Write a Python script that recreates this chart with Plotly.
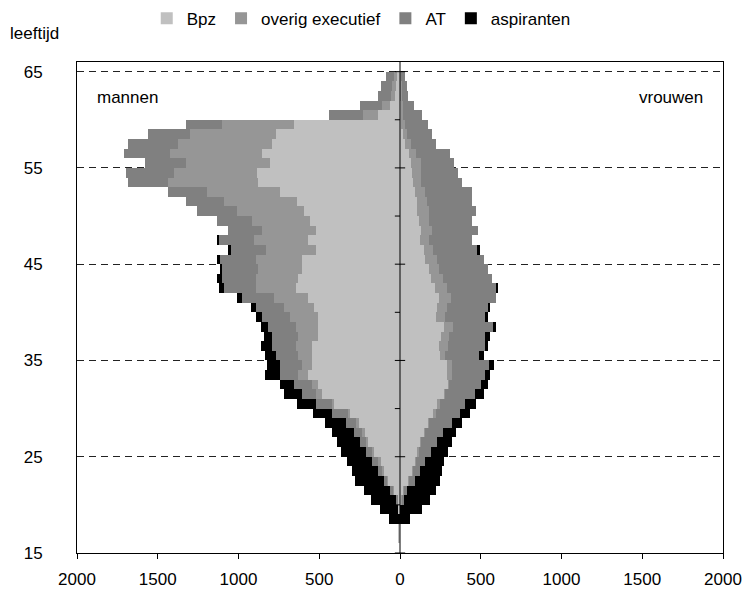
import plotly.graph_objects as go

# ages 16..64 (each bar spans age .. age+1)
ages = list(range(16, 65))

men_bpz = [8, 8, 0, 10, 15, 35, 72, 97, 122, 159, 196, 221, 258, 307, 406, 481, 506, 568, 543, 543,
           543, 506, 506, 506, 530, 568, 642, 630, 605, 605, 518, 568, 518, 557, 593, 640, 743, 877,
           888, 805, 853, 790, 766, 654, 134, 62, 31, 25, 20]
men_overig = [0, 0, 0, 0, 0, 13, 13, 13, 12, 13, 13, 12, 12, 13, 13, 37, 37, 62, 62, 87,
              99, 124, 136, 173, 186, 210, 248, 260, 272, 285, 310, 334, 335, 362, 419, 448, 454, 558,
              510, 520, 571, 583, 534, 446, 97, 48, 25, 25, 20]
men_at = [0, 0, 0, 0, 8, 12, 12, 24, 38, 37, 37, 50, 62, 99, 99, 87, 111, 111, 136, 136,
          148, 160, 173, 174, 174, 198, 198, 210, 223, 225, 223, 223, 210, 212, 243, 239, 238, 252,
          301, 254, 283, 309, 258, 227, 207, 136, 83, 65, 45]
men_asp = [0, 0, 66, 112, 155, 161, 180, 161, 154, 154, 142, 136, 131, 118, 118, 111, 87, 93, 80, 68,
           68, 55, 43, 37, 30, 31, 31, 31, 13, 16, 12, 10, 0, 0, 0, 0, 0, 0,
           0, 0, 0, 0, 0, 0, 0, 0, 0, 0, 0]

women_bpz = [0, 0, 0, 0, 10, 21, 51, 76, 95, 107, 128, 150, 175, 206, 231, 274, 299, 293, 293, 250,
             243, 256, 274, 225, 231, 243, 219, 194, 181, 157, 150, 126, 132, 120, 107, 107, 95, 83,
             74, 66, 58, 30, 21, 8, 10, 8, 5, 5, 3]
women_overig = [0, 0, 0, 0, 5, 6, 7, 7, 6, 13, 4, 7, 6, 19, 19, 7, 6, 31, 31, 31,
                56, 49, 56, 56, 62, 75, 74, 74, 62, 74, 56, 55, 68, 61, 74, 62, 62, 49,
                54, 62, 41, 35, 24, 20, 10, 8, 5, 5, 3]
women_at = [0, 0, 0, 0, 12, 18, 37, 43, 56, 74, 99, 111, 143, 148, 154, 185, 198, 204, 229, 210,
            229, 223, 248, 247, 254, 278, 303, 303, 304, 291, 273, 267, 285, 267, 291, 279, 291, 254,
            233, 208, 212, 160, 155, 147, 118, 73, 41, 31, 25]
women_asp = [0, 0, 64, 138, 161, 180, 155, 136, 117, 105, 93, 81, 62, 62, 68, 56, 44, 31, 31, 31,
             19, 31, 18, 19, 12, 0, 13, 0, 0, 0, 18, 0, 0, 0, 0, 0, 0, 0,
             0, 0, 0, 0, 0, 0, 0, 0, 0, 0, 0]

series_names = ["Bpz", "overig executief", "AT", "aspiranten"]
series_colors = ["#C0C0C0", "#969696", "#808080", "#000000"]

x_tickvals = [-2000, -1500, -1000, -500, 0, 500, 1000, 1500, 2000]
x_ticktext = ["2000", "1500", "1000", "500", "0", "500", "1000", "1500", "2000"]
y_major = [15, 25, 35, 45, 55, 65]
y_minor = [20, 30, 40, 50, 60]

FONT = "Liberation Sans, Arial, sans-serif"
FS = 17

ycent = [a + 0.5 for a in ages]
men = [men_bpz, men_overig, men_at, men_asp]
women = [women_bpz, women_overig, women_at, women_asp]

fig = go.Figure()
for name, color, mv, wv in zip(series_names, series_colors, men, women):
    fig.add_trace(go.Bar(
        y=ycent, x=[-v for v in mv], orientation="h", width=1,
        marker=dict(color=color, line=dict(width=0)),
        name=name, legendgroup=name, showlegend=True))
    fig.add_trace(go.Bar(
        y=ycent, x=wv, orientation="h", width=1,
        marker=dict(color=color, line=dict(width=0)),
        name=name, legendgroup=name, showlegend=False))

shapes = [dict(type="line", xref="x", yref="y", x0=0, x1=0, y0=15, y1=66,
               line=dict(color="black", width=1), layer="above")]
for t in y_major:
    shapes.append(dict(type="line", xref="x", yref="y", x0=-32, x1=32, y0=t, y1=t,
                       line=dict(color="black", width=1), layer="above"))
for t in y_minor:
    shapes.append(dict(type="line", xref="x", yref="y", x0=-32, x1=0, y0=t, y1=t,
                       line=dict(color="black", width=1), layer="above"))

fig.update_layout(
    width=749, height=594,
    margin=dict(l=77, r=26, t=62, b=41, autoexpand=False),
    paper_bgcolor="white", plot_bgcolor="white",
    barmode="relative", bargap=0,
    font=dict(family=FONT, size=FS, color="black"),
    showlegend=True,
    legend=dict(orientation="h", x=0.44, xanchor="center", y=1.088, yanchor="middle",
                font=dict(family=FONT, size=FS), traceorder="normal",
                itemwidth=30, tracegroupgap=0),
    xaxis=dict(range=[-2000, 2000], tickvals=x_tickvals, ticktext=x_ticktext,
               showline=True, linecolor="black", linewidth=1, mirror=True,
               ticks="outside", ticklen=5, tickcolor="black",
               showgrid=False, zeroline=False, ticklabelstandoff=6, automargin=False,
               tickfont=dict(family=FONT, size=FS)),
    yaxis=dict(range=[15, 66], tickvals=y_major,
               showline=True, linecolor="black", linewidth=1, mirror=True,
               ticks="", showgrid=True, gridcolor="#222222", gridwidth=1, griddash="7px,5px",
               zeroline=False, ticklabelstandoff=30, automargin=False,
               tickfont=dict(family=FONT, size=FS)),
    shapes=shapes,
    annotations=[
        dict(text="leeftijd", xref="paper", yref="paper", x=-0.107, y=1.059,
             xanchor="left", yanchor="middle", showarrow=False, font=dict(size=FS)),
        dict(text="mannen", xref="paper", yref="paper", x=0.028, y=0.927,
             xanchor="left", yanchor="middle", showarrow=False, font=dict(size=FS)),
        dict(text="vrouwen", xref="paper", yref="paper", x=0.972, y=0.927,
             xanchor="right", yanchor="middle", showarrow=False, font=dict(size=FS)),
    ],
)

fig.write_html("out.html", config={"displayModeBar": False},
               post_script="document.body.style.margin='0px';")
